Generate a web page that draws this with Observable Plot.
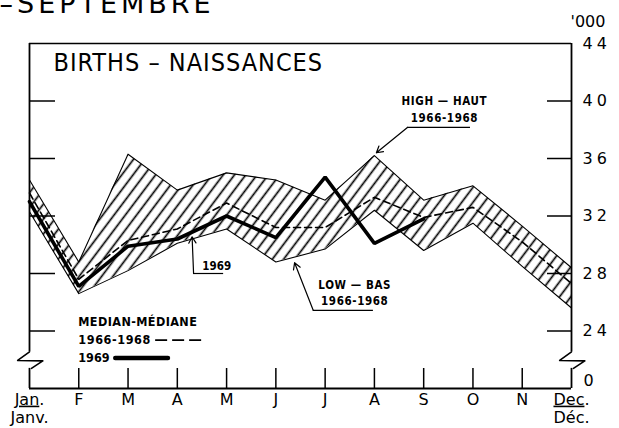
<!DOCTYPE html>
<html><head><meta charset="utf-8">
<script src="https://cdn.jsdelivr.net/npm/d3@7"></script>
<script src="https://cdn.jsdelivr.net/npm/@observablehq/plot@0.6"></script>
<style>
html,body{margin:0;padding:0;background:#fff;}
svg{display:block;}
</style></head><body><div id="chart"></div>
<script>
// ---- data (thousands of births) ----
const monthLabels = ["Jan.","F","M","A","M","J","J","A","S","O","N","Dec."];
const high6668   = [34.5, 28.8, 36.3, 33.8, 35.0, 34.5, 33.1, 36.2, 33.1, 34.1, 31.3, 28.4];
const low6668    = [32.3, 26.6, 28.2, 30.1, 31.1, 28.8, 29.7, 32.4, 29.6, 31.5, 28.5, 25.6];
const median6668 = [33.6, 27.6, 30.3, 31.1, 32.9, 31.2, 31.2, 33.3, 31.9, 32.6, 30.2, 27.3];
const births1969 = [33.0, 27.1, 29.9, 30.4, 32.0, 30.5, 34.7, 30.1, 31.8];
const yTicks = [44, 40, 36, 32, 28, 24];
const yInnerTicks = [40, 36, 32, 28, 24];
const yZeroLabel = "0";
const unitLabel = "'000";
const chartTitle = "BIRTHS – NAISSANCES";
const pageTitle = "–SEPTEMBRE";

// annotation anchors in data units (month index, thousands)
const highNote = {lines:["HIGH — HAUT","1966-1968"], x:8.42, y:[40.0, 38.78], ux:[7.67, 8.95], uy:38.16, tip:[7.04, 36.4]};
const lowNote  = {lines:["LOW — BAS","1966-1968"], x:6.6, y:[27.2, 26.1], ux:[5.76, 6.98], uy:25.43, tip:[5.38, 28.75]};
const note1969 = {lines:["1969"], x:3.8, y:[28.52], ux:[3.33, 3.94], uy:28.0, tip:[3.30, 30.55]};
const legendRows = [
  {text:"MEDIAN-MÉDIANE", y:24.63},
  {text:"1966-1968", y:23.37, key:"dash", kx:[2.56,3.53]},
  {text:"1969", y:22.12, key:"solid", kx:[1.75,2.82]}
];
const legendX = 0.99;
// axis break zig-zag (month offset, value)
const breakDX = [0.0, -0.24, 0.27, 0.04];
const breakY  = [22.55, 21.95, 21.92, 21.4];

const band = monthLabels.map((m,i)=>({i, high:high6668[i], low:low6668[i], median:median6668[i]}));
const s69 = births1969.map((v,i)=>({i, v}));
const leftBreak = breakDX.map((d,k)=>({x:0+d, y:breakY[k]}));
const rightBreak = breakDX.map((d,k)=>({x:11+d, y:breakY[k]}));

const W=619, H=428, mL=29, mR=48, mT=43, mB=40;
const fw=W-mL-mR, fh=H-mT-mB;
const small = {fontFamily:"'DejaVu Sans Condensed','DejaVu Sans',sans-serif", fontWeight:"bold", fontSize:11.5, fill:"#000"};
const axisFont = {fontFamily:"'DejaVu Sans',sans-serif", fontSize:16, fill:"#000"};

function note(n){
  return [
    Plot.text(n.lines, {x:n.x, y:(d,k)=>n.y[k], text:d=>d, ...small}),
    Plot.ruleY([n.uy], {x1:n.ux[0], x2:n.ux[1], strokeWidth:1.2}),
    Plot.arrow([n], {x1:n.ux[0], y1:n.uy, x2:n.tip[0], y2:n.tip[1], strokeWidth:1.2, headLength:9, bend:0})
  ];
}

const svg = Plot.plot({
  width:W, height:H, marginLeft:mL, marginRight:mR, marginTop:mT, marginBottom:mB,
  x:{type:"linear", domain:[0,11], axis:null},
  y:{type:"linear", domain:[20,44], axis:null},
  style:{background:"#fff", color:"#000", overflow:"visible"},
  marks:[
    // band hatch
    Plot.areaY(band, {x:"i", y1:"low", y2:"high", fill:"url(#hatch)"}),
    Plot.line(band, {x:"i", y:"high", stroke:"#000", strokeWidth:1.1}),
    Plot.line(band, {x:"i", y:"low", stroke:"#000", strokeWidth:1.1}),
    Plot.line(band, {x:"i", y:"median", stroke:"#000", strokeWidth:1.6, strokeDasharray:"7,4"}),
    Plot.line(s69, {x:"i", y:"v", stroke:"#000", strokeWidth:3.6, strokeLinejoin:"miter"}),
    // frame
    Plot.ruleY([44], {strokeWidth:1.4}),
    Plot.ruleY([20], {strokeWidth:2}),
    Plot.ruleX([0, 11], {y1:breakY[0], y2:44, strokeWidth:1.8}),
    Plot.ruleX([0, 11], {y1:20, y2:breakY[3], strokeWidth:1.8}),
    Plot.line(leftBreak, {x:"x", y:"y", strokeWidth:1.6}),
    Plot.line(rightBreak, {x:"x", y:"y", strokeWidth:1.6}),
    // ticks
    Plot.ruleX(d3.range(1,11), {x:d=>d, insetTop:fh-20, strokeWidth:1.5}),
    Plot.ruleY(yInnerTicks, {y:d=>d, insetRight:fw-26, strokeWidth:1.5}),
    Plot.ruleY(yInnerTicks, {y:d=>d, insetLeft:fw-24, strokeWidth:1.5}),
    // axis labels
    Plot.text(d3.range(12), {x:d=>d, y:20, text:d=>monthLabels[d], dy:11, ...axisFont}),
    Plot.text([0, 11], {x:d=>d, y:20, text:d=>d===0?"Janv.":"Déc.", dy:29, ...axisFont}),
    Plot.text(yTicks, {x:11, y:d=>d, text:d=>String(d), dx:11, textAnchor:"start", ...axisFont}),
    Plot.text([yZeroLabel], {x:11, y:20, text:d=>d, dx:12, dy:-8, textAnchor:"start", ...axisFont}),
    Plot.text([unitLabel], {x:11, y:44, text:d=>d, dx:-1, dy:-22, textAnchor:"start", ...axisFont}),
    // titles
    Plot.text([chartTitle], {frameAnchor:"top-left", text:d=>d, dx:24, dy:27, lineAnchor:"bottom", textAnchor:"start",
      fontFamily:"'DejaVu Sans Condensed','DejaVu Sans',sans-serif", fontSize:25, fill:"#000"}),
    Plot.text([pageTitle], {frameAnchor:"top-left", text:d=>d, dx:-30, dy:-31, lineAnchor:"bottom", textAnchor:"start",
      fontFamily:"'DejaVu Sans',sans-serif", fontSize:27, fill:"#000"}),
    // annotations
    ...note(highNote),
    ...note(lowNote),
    ...note(note1969),
    // legend
    Plot.text(legendRows, {x:legendX, y:"y", text:"text", textAnchor:"start", ...small, fontSize:12.5}),
    Plot.ruleY(legendRows.filter(r=>r.key==="dash"), {y:"y", x1:d=>d.kx[0], x2:d=>d.kx[1], strokeWidth:1.8, strokeDasharray:"12,5"}),
    Plot.ruleY(legendRows.filter(r=>r.key==="solid"), {y:"y", x1:d=>d.kx[0], x2:d=>d.kx[1], strokeWidth:4.5, strokeLinecap:"round"})
  ]
});

// hatch pattern
const ns = "http://www.w3.org/2000/svg";
const defs = document.createElementNS(ns, "defs");
defs.innerHTML = '<pattern id="hatch" patternUnits="userSpaceOnUse" width="9" height="9" patternTransform="rotate(37)"><line x1="4.5" y1="-1" x2="4.5" y2="10" stroke="#000" stroke-width="1.7"/></pattern>';
svg.insertBefore(defs, svg.firstChild);

// letter spacing tweaks, matched by text content
const spacing = new Map();
yTicks.forEach(t => spacing.set(String(t), 4));
spacing.set(pageTitle, 4);
spacing.set(chartTitle, 1);
["HIGH — HAUT","LOW — BAS","1966-1968"].forEach(t => spacing.set(t, 0.6));
spacing.set("MEDIAN-MÉDIANE", 0.4);
svg.querySelectorAll("text").forEach(el => {
  const t = el.textContent;
  if (spacing.has(t)) el.setAttribute("style", (el.getAttribute("style")||"") + `;letter-spacing:${spacing.get(t)}px`);
  if (t === "Jan." || t === "Dec.") {
    el.textContent = "";
    const ts = document.createElementNS(ns, "tspan");
    ts.textContent = t.slice(0,3);
    ts.setAttribute("style", "text-decoration:underline");
    el.appendChild(ts);
    el.appendChild(document.createTextNode("."));
  }
});
document.getElementById("chart").appendChild(svg);
</script>
</body></html>
